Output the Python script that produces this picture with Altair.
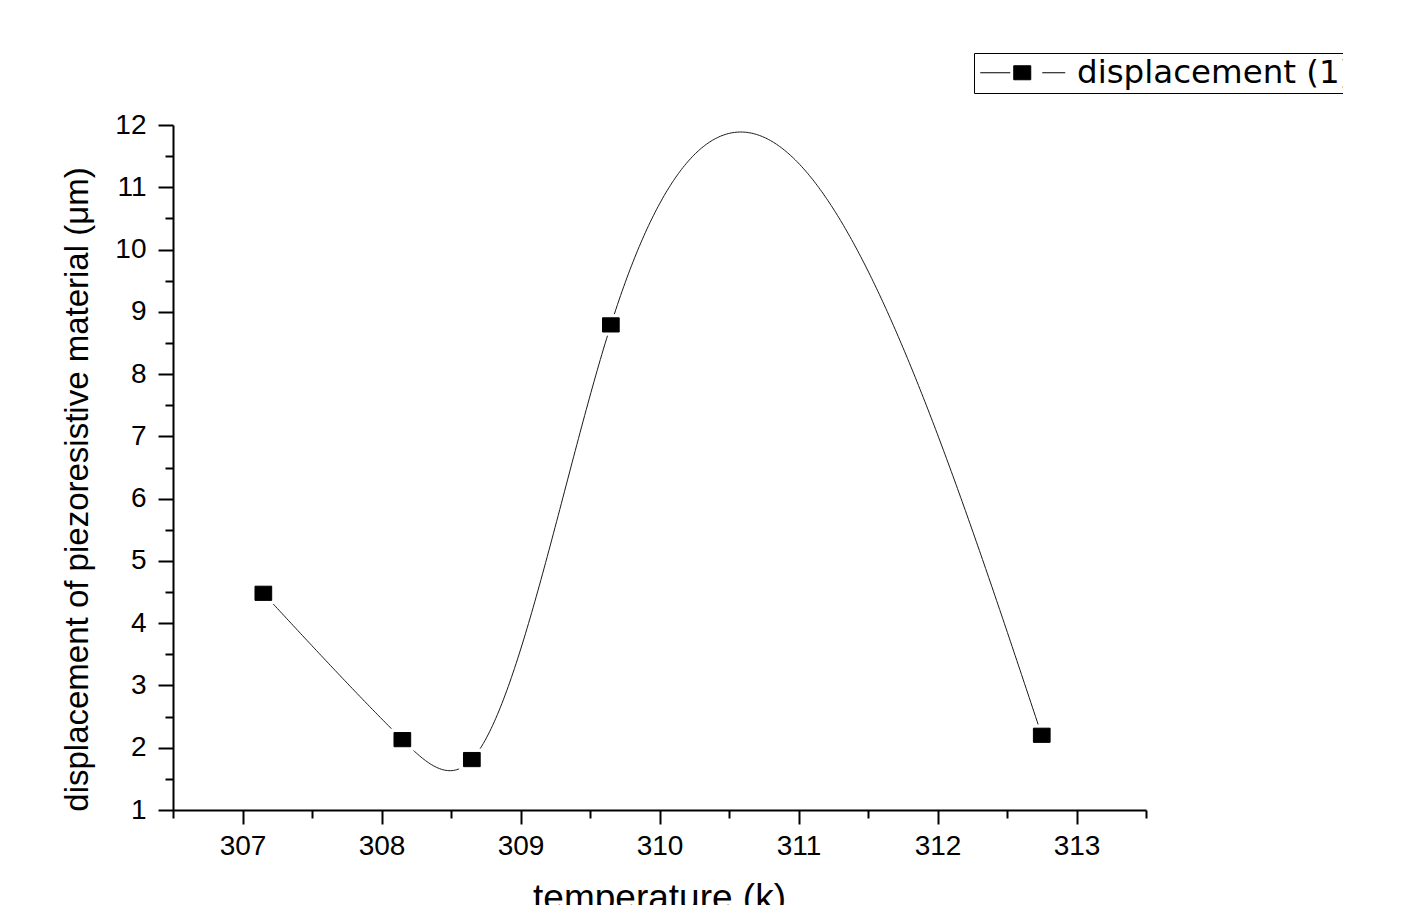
import altair as alt
import numpy as np
import pandas as pd

# ---- data ----
temperature = [307.15, 308.15, 308.65, 309.65, 312.75]
displacement = [4.48, 2.13, 1.81, 8.79, 2.20]
series_name = "displacement (1)"

x_ticks = [307, 308, 309, 310, 311, 312, 313]
x_minor = [306.5, 307.5, 308.5, 309.5, 310.5, 311.5, 312.5, 313.5]
y_ticks = [1, 2, 3, 4, 5, 6, 7, 8, 9, 10, 11, 12]
y_minor = [1.5, 2.5, 3.5, 4.5, 5.5, 6.5, 7.5, 8.5, 9.5, 10.5, 11.5]


# ---- spline connection of the data points (natural cubic spline in x, as the original software draws it) ----
def natural_cubic(xs, ys, xq):
    xs = np.asarray(xs, float)
    ys = np.asarray(ys, float)
    n = len(xs)
    h = np.diff(xs)
    A = np.zeros((n, n))
    b = np.zeros(n)
    A[0, 0] = A[-1, -1] = 1.0
    for i in range(1, n - 1):
        A[i, i - 1] = h[i - 1]
        A[i, i] = 2 * (h[i - 1] + h[i])
        A[i, i + 1] = h[i]
        b[i] = 6 * ((ys[i + 1] - ys[i]) / h[i] - (ys[i] - ys[i - 1]) / h[i - 1])
    M = np.linalg.solve(A, b)
    out = []
    for x in xq:
        i = int(np.searchsorted(xs, x, side="right") - 1)
        i = max(0, min(i, n - 2))
        t0 = xs[i + 1] - x
        t1 = x - xs[i]
        y = (M[i] * t0 ** 3 + M[i + 1] * t1 ** 3) / (6 * h[i]) \
            + (ys[i] / h[i] - M[i] * h[i] / 6) * t0 \
            + (ys[i + 1] / h[i] - M[i + 1] * h[i] / 6) * t1
        out.append(y)
    return np.array(out)


xq = np.linspace(temperature[0], temperature[-1], 500)
yq = natural_cubic(temperature, displacement, xq)

pts = pd.DataFrame({"temperature": temperature, "displacement": displacement,
                    "series": [series_name] * len(temperature)})
curve = pd.DataFrame({"temperature": xq, "displacement": yq})

FONT = "Liberation Sans"
xscale = alt.Scale(domain=[306.5, 313.5], nice=False, zero=False)
yscale = alt.Scale(domain=[1, 12], nice=False, zero=False)

common = dict(domainColor="black", domainWidth=2, tickColor="black", tickWidth=2,
              grid=False, labelFont=FONT, labelColor="black", titleFont=FONT,
              titleColor="black", titleFontWeight="normal")

x_major_axis = alt.Axis(values=x_ticks, orient="bottom", tickSize=14, labelFontSize=28,
                        labelPadding=8, format="d", labelOverlap=False,
                        title="temperature (k)", titleFontSize=37, titleX=486, titleY=99,
                        titleBaseline="alphabetic", titleAlign="center", **common)
y_major_axis = alt.Axis(values=y_ticks, orient="left", tickSize=15, labelFontSize=28,
                        labelPadding=12, format="d", labelOverlap=False,
                        title="displacement of piezoresistive material (μm)",
                        titleFontSize=33, titleAngle=270, titleX=-96, titleY=364,
                        titleBaseline="middle", titleAlign="center", **common)
x_minor_axis = alt.Axis(values=x_minor, orient="bottom", tickSize=8, labels=False,
                        domain=False, grid=False, tickColor="black", tickWidth=2, title=None)
y_minor_axis = alt.Axis(values=y_minor, orient="left", tickSize=8, labels=False,
                        domain=False, grid=False, tickColor="black", tickWidth=2, title=None)

rect_shape = "M-1,-0.85H1V0.85H-1Z"
legend_shape = "M-4.2,0H-1.2M-0.85,-0.7H0.85V0.7H-0.85ZM2,0H4.3"

line = alt.Chart(curve).mark_line(color="#1a1a1a", strokeWidth=1).encode(
    x=alt.X("temperature:Q", scale=xscale, axis=x_major_axis),
    y=alt.Y("displacement:Q", scale=yscale, axis=y_major_axis),
)

halo = alt.Chart(pts).mark_point(shape=rect_shape, size=650, filled=True,
                                 color="white", opacity=1).encode(
    x=alt.X("temperature:Q", scale=xscale, axis=x_minor_axis),
    y=alt.Y("displacement:Q", scale=yscale, axis=y_minor_axis),
)

markers = alt.Chart(pts).mark_point(shape=rect_shape, size=279, filled=True,
                                    stroke="black", strokeWidth=1, opacity=1).encode(
    x=alt.X("temperature:Q", scale=xscale, axis=None),
    y=alt.Y("displacement:Q", scale=yscale, axis=None),
    fill=alt.Fill("series:N", scale=alt.Scale(range=["black"]),
                  legend=alt.Legend(title=None, orient="none", legendX=801, legendY=-72,
                                    symbolType=legend_shape, symbolSize=400,
                                    symbolStrokeColor="black", symbolFillColor="black",
                                    symbolStrokeWidth=1, symbolOpacity=1,
                                    symbolOffset=28.5, labelOffset=38.5,
                                    labelFont="DejaVu Sans", labelFontSize=32.5,
                                    labelColor="black", labelLimit=2000,
                                    strokeColor="black", padding=3.5,
                                    fillColor="white")),
)

chart = alt.layer(line, halo, markers).resolve_axis(
    x="independent", y="independent"
).properties(
    width=973, height=685,
    autosize=alt.AutoSizeParams(type="none"),
    padding={"left": 173, "top": 125, "right": 197, "bottom": 95},
    background="white",
).configure_view(strokeWidth=0)

chart.save("out.html", embed_options={"renderer": "svg", "actions": False})
